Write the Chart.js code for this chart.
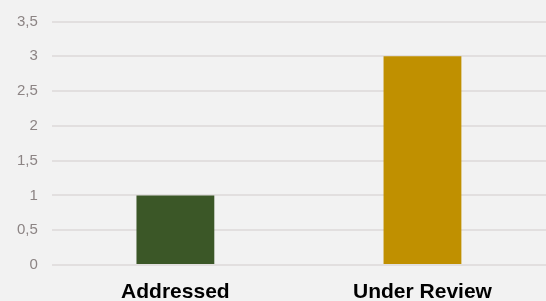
<!DOCTYPE html>
<html>
<head>
<meta charset="utf-8">
<script src="https://cdn.jsdelivr.net/npm/chart.js@4/dist/chart.umd.min.js"></script>
<style>
  html, body { margin: 0; padding: 0; background: #f2f2f2; }
  #wrap { width: 546px; height: 301px; position: relative; }
</style>
</head>
<body>
<div id="wrap"><canvas id="statusChart"></canvas></div>
<script>
// status counts
const categories = ['Addressed', 'Under Review'];
const counts = [1, 3];
const barColors = ['#3b5727', '#c09000'];
const yTicks = [0, 0.5, 1, 1.5, 2, 2.5, 3, 3.5];

new Chart(document.getElementById('statusChart'), {
  type: 'bar',
  data: {
    labels: categories,
    datasets: [{ data: counts, backgroundColor: barColors, borderWidth: 0, barPercentage: 0.63, categoryPercentage: 0.5 }]
  },
  options: {
    responsive: true,
    maintainAspectRatio: false,
    animation: false,
    layout: { autoPadding: false, padding: { top: 18, right: 0, left: 3, bottom: 0 } },
    plugins: { legend: { display: false }, tooltip: { enabled: false } },
    scales: {
      x: {
        grid: { display: false, drawTicks: false },
        border: { display: false },
        ticks: { color: '#000', padding: 15, font: { family: 'Liberation Sans', size: 21, weight: 'bold' } },
        afterFit: scale => { scale.height = 36; }
      },
      y: {
        min: 0,
        max: 3.5,
        afterBuildTicks: axis => { axis.ticks = yTicks.map(v => ({ value: v })); },
        grid: { color: '#e2dfdf', lineWidth: 2, drawTicks: false },
        border: { display: false },
        ticks: {
          color: '#8c8484',
          padding: 14,
          font: { family: 'Liberation Sans', size: 15, lineHeight: 1 },
          callback: v => String(v).replace('.', ',')
        }
      }
    }
  }
});
</script>
</body>
</html>
